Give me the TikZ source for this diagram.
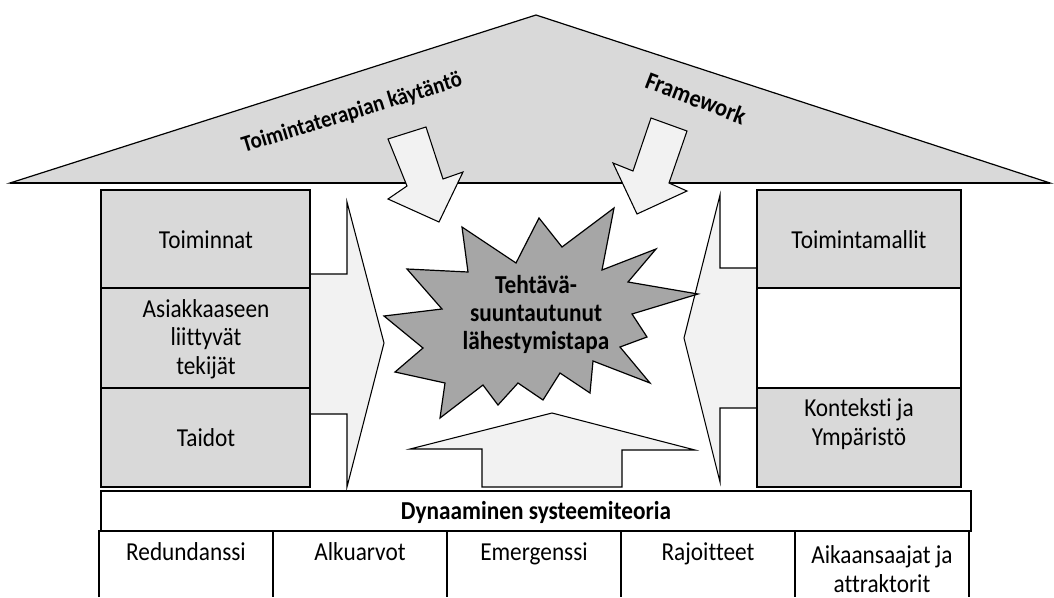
\documentclass[tikz,border=0pt]{standalone}
\usepackage{fontspec}
\setmainfont{Carlito}[FakeStretch=0.9, Ligatures=NoCommon]
\definecolor{roofgray}{HTML}{D9D9D9}
\definecolor{arrowfill}{HTML}{F2F2F2}
\definecolor{stargray}{HTML}{A6A6A6}
\begin{document}
\begin{tikzpicture}[x=0.75pt,y=-0.75pt,
  lbl/.style={font=\fontsize{19.4}{21.5}\selectfont, align=center, inner sep=0pt},
  blbl/.style={font=\fontsize{19.4}{21}\selectfont\bfseries, align=center, inner sep=0pt},
  rooflbl/.style={font=\fontsize{17.4}{21}\selectfont\bfseries, inner sep=0pt},
  blockarrow/.style={draw=black, fill=arrowfill, line width=0.8pt, line join=miter},
  gbox/.style={draw=black, fill=roofgray, line width=1.3pt},
  wbox/.style={draw=black, fill=white, line width=1.3pt},
  cell/.style={draw=black, line width=1pt}]
\useasboundingbox (0,0) rectangle (1054,597);

% roof
\draw[fill=roofgray, line width=0.9pt, line join=miter] (10,183) -- (536,15) -- (1050,183) -- cycle;
\draw[line width=1.6pt] (10,183) -- (1050,183);
\node[rooflbl, rotate=17] (practice) at (352,113) {Toimintaterapian käytäntö};
\node[rooflbl, font=\fontsize{18.6}{21}\selectfont\bfseries, rotate=-21] (framework) at (696,98) {Framework};

% arrows from the roof
\draw[blockarrow] (388,139) -- (426,127) -- (443,179) -- (463,172) -- (439,222) -- (388,199) -- (407,186) -- cycle;
\draw[blockarrow] (651,118) -- (687,131) -- (669,183) -- (687,191) -- (637,214) -- (613,163) -- (633,171) -- cycle;

% side arrows
\draw[blockarrow] (300,274) -- (347,274) -- (347,202) -- (384,343) -- (347,487) -- (347,414) -- (300,414) -- cycle;
\draw[blockarrow] (767,268) -- (720,268) -- (720,195) -- (684,338) -- (720,482) -- (720,408) -- (767,408) -- cycle;

% bottom arrow
\draw[blockarrow] (482,487) -- (482,449) -- (410,449) -- (552,413) -- (695,450) -- (622,450) -- (622,487) -- cycle;

% left column
\draw[gbox] (101,190) rectangle (310,288);
\draw[gbox] (101,288) rectangle (310,388);
\draw[gbox] (101,388) rectangle (310,487);
\node[lbl] (toiminnat) at (206,240) {Toiminnat};
\node[lbl] (asiakas) at (206,339) {Asiakkaaseen\\liittyvät\\tekijät};
\node[lbl] (taidot) at (206,438) {Taidot};

% right column
\draw[gbox] (757,190) rectangle (961,288);
\draw[wbox] (757,288) rectangle (961,388);
\draw[gbox] (757,388) rectangle (961,487);
\node[lbl] (mallit) at (859,240) {Toimintamallit};
\node[lbl] (konteksti) at (859,424) {Konteksti ja\\Ympäristö};

% central explosion
\draw[fill=stargray, line width=0.9pt, line join=miter]
  (539,218) -- (562,247) -- (614,208) -- (602,270) -- (656,249) -- (628,282)
  -- (698,294) -- (632,314) -- (647,337) -- (620,347) -- (650,383) -- (593,361)
  -- (590,393) -- (560,373) -- (543,400) -- (518,383) -- (498,405) -- (483,385)
  -- (440,418) -- (445,383) -- (395,372) -- (423,348) -- (384,316) -- (442,309)
  -- (407,269) -- (468,272) -- (462,227) -- (516,263) -- cycle;
\node[blbl] (approach) at (536,314) {Tehtävä-\\suuntautunut\\lähestymistapa};

% foundation
\draw[wbox] (101,491) rectangle (971,531);
\node[blbl] (dst) at (536,512) {Dynaaminen systeemiteoria};
\draw[cell] (99,597) -- (99,531) -- (969,531) -- (969,597);
\foreach \x in {273,447,621,795} \draw[cell] (\x,531) -- (\x,597);
\node[lbl, anchor=base] (redund) at (186,560) {Redundanssi};
\node[lbl, anchor=base] (alku) at (360,560) {Alkuarvot};
\node[lbl, anchor=base] (emerg) at (534,560) {Emergenssi};
\node[lbl, anchor=base] (rajoit) at (708,560) {Rajoitteet};
\node[lbl] (aikaan) at (882,569) {Aikaansaajat ja\\attraktorit};
\end{tikzpicture}
\end{document}
